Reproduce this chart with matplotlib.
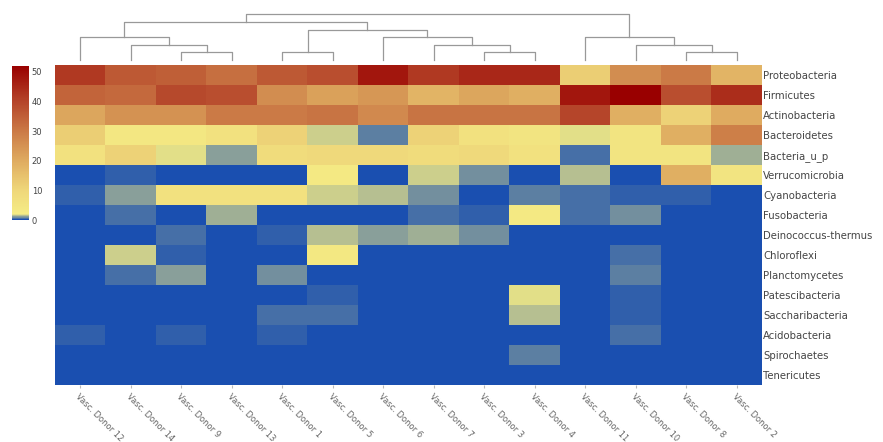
import numpy as np
import matplotlib
matplotlib.use('Agg')
import matplotlib.pyplot as plt
from matplotlib.colors import LinearSegmentedColormap

donors = ['Vasc. Donor 12', 'Vasc. Donor 14', 'Vasc. Donor 9', 'Vasc. Donor 13', 'Vasc. Donor 1',
          'Vasc. Donor 5', 'Vasc. Donor 6', 'Vasc. Donor 7', 'Vasc. Donor 3', 'Vasc. Donor 4',
          'Vasc. Donor 11', 'Vasc. Donor 10', 'Vasc. Donor 8', 'Vasc. Donor 2']
phyla = ['Proteobacteria', 'Firmicutes', 'Actinobacteria', 'Bacteroidetes', 'Bacteria_u_p',
         'Verrucomicrobia', 'Cyanobacteria', 'Fusobacteria', 'Deinococcus-thermus', 'Chloroflexi',
         'Planctomycetes', 'Patescibacteria', 'Saccharibacteria', 'Acidobacteria', 'Spirochaetes',
         'Tenericutes']

# relative abundance (%) per phylum, columns in donor order above
proteobacteria   = [42, 36, 35, 32, 36, 38, 48, 42, 45, 45, 12, 26, 30, 18]
firmicutes       = [34, 33, 39, 38, 26, 22, 24, 18, 21, 19, 48, 52, 38, 44]
actinobacteria   = [21, 25, 25, 30, 30, 31, 27, 31, 31, 31, 40, 19, 11, 20]
bacteroidetes    = [12, 4, 4, 6, 11, 1.65, 0.8, 11, 6, 5, 1.85, 5, 19, 29]
bacteria_u_p     = [6, 11, 1.95, 1.17, 8, 9, 9, 8, 9, 6, 0.44, 5, 5, 1.4]
verrucomicrobia  = [0.17, 0.31, 0, 0, 0, 3, 0, 1.8, 0.92, 0, 1.6, 0, 19, 5]
cyanobacteria    = [0.3, 1.17, 6, 6, 6, 1.65, 1.6, 0.88, 0, 0.7, 0.6, 0.4, 0.29, 0.05]
fusobacteria     = [0.05, 0.58, 0, 1.35, 0, 0, 0, 0.58, 0.3, 3, 0.6, 0.88, 0, 0.05]
deinococcus      = [0.08, 0.2, 0.58, 0.03, 0.4, 1.5, 1.15, 1.25, 0.88, 0, 0, 0.02, 0.03, 0.02]
chloroflexi      = [0, 1.7, 0.26, 0, 0.1, 3.5, 0, 0, 0, 0, 0.03, 0.45, 0.1, 0]
planctomycetes   = [0.03, 0.5, 1.1, 0, 1.0, 0, 0, 0, 0.02, 0, 0, 0.65, 0, 0.1]
patescibacteria  = [0.05, 0, 0, 0, 0.05, 0.32, 0, 0, 0, 1.85, 0, 0.29, 0, 0]
saccharibacteria = [0, 0, 0, 0, 0.58, 0.44, 0, 0, 0, 1.6, 0, 0.23, 0, 0]
acidobacteria    = [0.23, 0, 0.23, 0, 0.37, 0, 0, 0, 0.01, 0, 0, 0.44, 0, 0.03]
spirochaetes     = [0, 0.02, 0, 0, 0, 0, 0, 0, 0, 0.71, 0, 0, 0, 0]
tenericutes      = [0, 0, 0, 0, 0, 0, 0.12, 0, 0, 0, 0, 0, 0, 0.02]

# column dendrogram merges (left, right, height); leaves 0..13, new nodes from 14
merges = [(2, 3, 1), (1, 14, 2), (0, 15, 3), (4, 5, 1), (8, 9, 1), (7, 18, 2),
          (6, 19, 3), (17, 20, 4), (16, 21, 5), (12, 13, 1), (11, 23, 2),
          (10, 24, 3), (22, 25, 6)]

data = np.array([proteobacteria, firmicutes, actinobacteria, bacteroidetes, bacteria_u_p,
                 verrucomicrobia, cyanobacteria, fusobacteria, deinococcus, chloroflexi,
                 planctomycetes, patescibacteria, saccharibacteria, acidobacteria,
                 spirochaetes, tenericutes])

vmax = 52.0
nodes = [(0.0, '#1a4fb0'), (2.0, '#f5ec85'), (10.0, '#efd77a'), (20.0, '#dfab60'),
         (30.0, '#cb7a46'), (40.0, '#b5452a'), (52.0, '#990000')]
cmap = LinearSegmentedColormap.from_list('abund', [(v / vmax, c) for v, c in nodes])

W, H = 883, 442
fig = plt.figure(figsize=(W / 100, H / 100), dpi=100)

def frac(x0, y0, x1, y1):
    return [x0 / W, 1 - y1 / H, (x1 - x0) / W, (y1 - y0) / H]

# heatmap
ax = fig.add_axes(frac(55, 65, 762, 385))
im = ax.imshow(data, cmap=cmap, vmin=0, vmax=vmax, aspect='auto', interpolation='nearest')
ax.set_xticks(range(len(donors)))
ax.set_xticklabels(donors, rotation=-45, ha='left', va='top', rotation_mode='anchor',
                   fontsize=6, color='#666666')
ax.yaxis.tick_right()
ax.set_yticks(range(len(phyla)))
ax.set_yticklabels(phyla, fontsize=7.3, color='#444444')
ax.tick_params(axis='y', length=0, pad=1)
ax.tick_params(axis='x', length=2, color='#bbbbbb', pad=3)
for s in ax.spines.values():
    s.set_visible(False)

# dendrogram
dax = fig.add_axes(frac(55, 14.4, 762, 60))
dax.set_xlim(-0.5, len(donors) - 0.5)
dax.set_ylim(0, 6)
dax.axis('off')
pos = {i: (float(i), 0.0) for i in range(len(donors))}
for k, (a, b, h) in enumerate(merges):
    xa, ha = pos[a]
    xb, hb = pos[b]
    dax.plot([xa, xa, xb, xb], [ha, h, h, hb], color='#999999', lw=0.9, clip_on=False)
    pos[len(donors) + k] = ((xa + xb) / 2, h)

# colorbar
cax = fig.add_axes(frac(12, 66, 29, 220))
cb = fig.colorbar(im, cax=cax, ticks=[0, 10, 20, 30, 40, 50])
cb.outline.set_visible(False)
cax.tick_params(length=0, labelsize=6, colors='#444444', pad=2)

fig.savefig('out.png', dpi=100)
